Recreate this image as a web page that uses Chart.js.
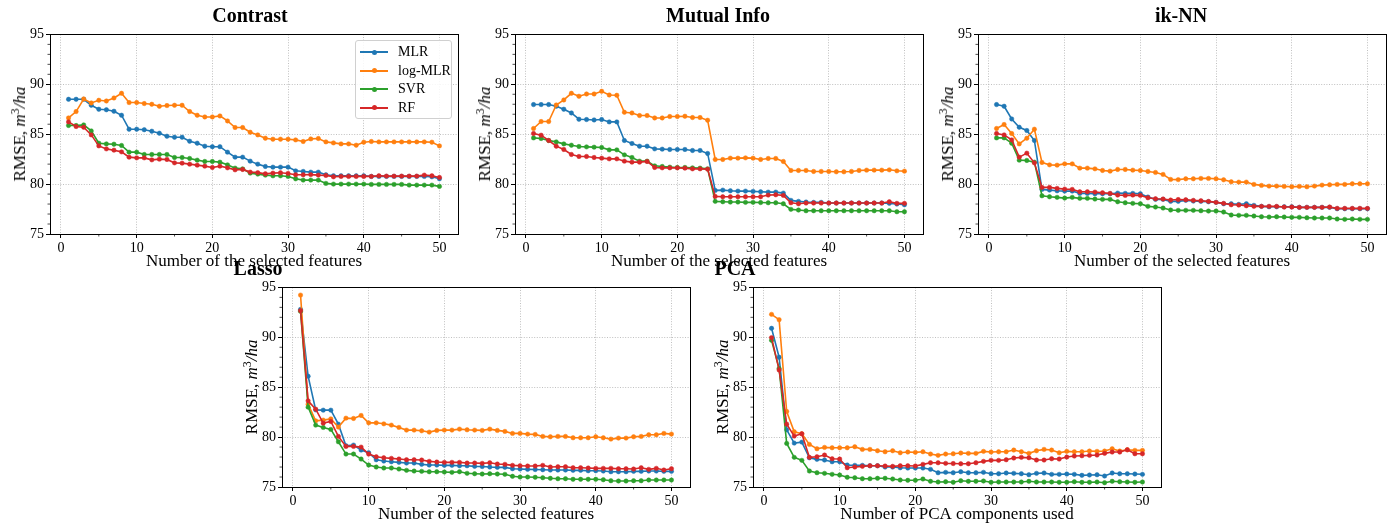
<!DOCTYPE html>
<html>
<head>
<meta charset="utf-8">
<script src="https://cdn.jsdelivr.net/npm/chart.js@4.4.0/dist/chart.umd.min.js"></script>
<style>
  body { margin: 0; background: #fff; }
  #page { position: relative; width: 1400px; height: 526px; overflow: hidden; color: #000;
          font-family: "Liberation Serif", "Times New Roman", serif; }
  canvas { position: absolute; }
  .title { position: absolute; font-weight: bold; font-size: 20px; line-height: 24px;
           white-space: nowrap; transform: translateX(-50%); }
  .ylabel { position: absolute; font-size: 17px; line-height: 20px; white-space: nowrap;
            transform: translate(-50%, -50%) rotate(-90deg); }
  .ylabel sup { font-size: 12px; line-height: 0; vertical-align: 0.5em; }
  #legend { position: absolute; left: 355px; top: 40px; width: 97px; height: 79px; box-sizing: border-box;
            border: 1px solid #d0d0d0; border-radius: 3px; background: rgba(255,255,255,0.85); }
  .lg-line { position: absolute; left: 4px; width: 28px; height: 2px; }
  .lg-dot { position: absolute; left: 15.5px; width: 5px; height: 5px; border-radius: 50%; }
  .lg-text { position: absolute; left: 42px; font-size: 14px; line-height: 16px; white-space: nowrap; }
</style>
</head>
<body>
<div id="page"></div>
<script>
// series names and colours (matplotlib tab10)
const seriesNames = ['MLR', 'log-MLR', 'SVR', 'RF'];
const seriesColors = ['#1f77b4', '#ff7f0e', '#2ca02c', '#d62728'];

// x values: number of features / components
const featureCounts = [
    1, 2, 3, 4, 5, 6, 7, 8, 9, 10,
    11, 12, 13, 14, 15, 16, 17, 18, 19, 20,
    21, 22, 23, 24, 25, 26, 27, 28, 29, 30,
    31, 32, 33, 34, 35, 36, 37, 38, 39, 40,
    41, 42, 43, 44, 45, 46, 47, 48, 49, 50
];

// tick labels
const xTicks = [0, 10, 20, 30, 40, 50];
const xMinorTicks = [5, 15, 25, 35, 45];
const yTicks = [75, 80, 85, 90, 95];
const yMinorTicks = [76, 77, 78, 79, 81, 82, 83, 84, 86, 87, 88, 89, 91, 92, 93, 94];

// ---- Contrast ----
const contrastMLR = [
    88.5, 88.5, 88.5, 87.9, 87.5, 87.45, 87.3, 86.9, 85.5, 85.5,
    85.45, 85.3, 85.1, 84.8, 84.7, 84.7, 84.3, 84.1, 83.8, 83.75,
    83.75, 83.2, 82.7, 82.7, 82.3, 82.0, 81.77, 81.7, 81.7, 81.7,
    81.33, 81.27, 81.2, 81.2, 80.93, 80.83, 80.83, 80.83, 80.83, 80.83,
    80.77, 80.77, 80.77, 80.77, 80.77, 80.77, 80.77, 80.77, 80.73, 80.53
];
const contrastLogMLR = [
    86.63, 87.27, 88.53, 88.13, 88.4, 88.33, 88.63, 89.1, 88.17, 88.17,
    88.07, 88.0, 87.8, 87.87, 87.9, 87.9, 87.27, 86.9, 86.73, 86.73,
    86.83, 86.33, 85.67, 85.67, 85.2, 84.93, 84.6, 84.5, 84.5, 84.5,
    84.43, 84.27, 84.53, 84.57, 84.23, 84.13, 84.03, 84.03, 83.9, 84.2,
    84.27, 84.23, 84.23, 84.23, 84.23, 84.23, 84.23, 84.23, 84.2, 83.83
];
const contrastSVR = [
    85.87, 85.87, 85.93, 85.33, 84.1, 84.03, 84.0, 83.87, 83.2, 83.2,
    82.97, 82.97, 82.97, 82.97, 82.67, 82.67, 82.57, 82.4, 82.27, 82.27,
    82.2, 81.93, 81.6, 81.53, 81.1, 81.0, 80.9, 80.83, 80.83, 80.77,
    80.53, 80.4, 80.4, 80.4, 80.07, 80.0, 80.0, 80.0, 80.0, 80.0,
    79.97, 79.97, 79.97, 79.97, 79.97, 79.9, 79.9, 79.9, 79.9, 79.77
];
const contrastRF = [
    86.23, 85.77, 85.7, 84.93, 83.83, 83.53, 83.4, 83.23, 82.7, 82.63,
    82.63, 82.43, 82.5, 82.47, 82.13, 82.1, 82.0, 81.9, 81.8, 81.67,
    81.8, 81.63, 81.43, 81.47, 81.2, 81.15, 81.03, 81.1, 81.13, 81.07,
    80.93, 80.93, 80.95, 80.9, 80.87, 80.73, 80.77, 80.77, 80.77, 80.77,
    80.77, 80.83, 80.8, 80.8, 80.8, 80.8, 80.8, 80.9, 80.83, 80.67
];

// ---- Mutual Info ----
const mutualMLR = [
    87.97, 87.97, 87.97, 87.8, 87.5, 87.13, 86.5, 86.47, 86.43, 86.47,
    86.23, 86.23, 84.37, 84.07, 83.8, 83.8, 83.53, 83.5, 83.47, 83.47,
    83.47, 83.37, 83.37, 83.07, 79.37, 79.4, 79.33, 79.3, 79.3, 79.27,
    79.23, 79.2, 79.2, 79.1, 78.37, 78.27, 78.2, 78.17, 78.17, 78.1,
    78.1, 78.1, 78.1, 78.1, 78.1, 78.1, 78.1, 78.07, 78.0, 77.93
];
const mutualLogMLR = [
    85.57, 86.27, 86.27, 87.93, 88.43, 89.1, 88.8, 89.03, 89.03, 89.3,
    88.93, 88.9, 87.2, 87.13, 86.87, 86.87, 86.63, 86.63, 86.77, 86.77,
    86.8, 86.67, 86.67, 86.4, 82.47, 82.47, 82.6, 82.6, 82.63, 82.6,
    82.47, 82.57, 82.57, 82.27, 81.37, 81.37, 81.37, 81.27, 81.27, 81.27,
    81.23, 81.23, 81.27, 81.37, 81.4, 81.4, 81.4, 81.43, 81.33, 81.3
];
const mutualSVR = [
    84.63, 84.57, 84.37, 84.23, 84.03, 83.9, 83.77, 83.73, 83.7, 83.67,
    83.43, 83.43, 82.93, 82.67, 82.3, 82.3, 81.83, 81.77, 81.7, 81.67,
    81.67, 81.63, 81.6, 81.53, 78.27, 78.23, 78.2, 78.2, 78.17, 78.17,
    78.15, 78.13, 78.13, 78.03, 77.47, 77.4, 77.33, 77.33, 77.33, 77.33,
    77.33, 77.33, 77.33, 77.33, 77.33, 77.33, 77.33, 77.33, 77.23, 77.23
];
const mutualRF = [
    85.07, 84.9, 84.37, 83.8, 83.47, 82.97, 82.77, 82.77, 82.67, 82.6,
    82.53, 82.53, 82.3, 82.2, 82.2, 82.27, 81.67, 81.63, 81.63, 81.63,
    81.6, 81.53, 81.53, 81.5, 78.77, 78.73, 78.73, 78.73, 78.73, 78.73,
    78.73, 78.9, 78.93, 78.87, 78.13, 78.03, 78.1, 78.1, 78.1, 78.1,
    78.1, 78.1, 78.1, 78.1, 78.1, 78.1, 78.1, 78.23, 78.07, 78.07
];

// ---- ik-NN ----
const iknnMLR = [
    87.97, 87.8, 86.53, 85.7, 85.37, 84.37, 79.47, 79.4, 79.33, 79.3,
    79.3, 79.07, 79.07, 79.03, 79.03, 79.03, 79.1, 79.07, 79.07, 79.03,
    78.7, 78.47, 78.47, 78.27, 78.27, 78.37, 78.3, 78.27, 78.23, 78.17,
    78.03, 78.03, 77.97, 78.03, 77.87, 77.77, 77.73, 77.73, 77.73, 77.73,
    77.67, 77.67, 77.67, 77.67, 77.67, 77.53, 77.53, 77.53, 77.53, 77.53
];
const iknnLogMLR = [
    85.57, 85.97, 85.07, 84.03, 84.6, 85.5, 82.17, 81.93, 81.9, 82.03,
    82.03, 81.6, 81.6, 81.53, 81.37, 81.3, 81.47, 81.47, 81.4, 81.37,
    81.27, 81.17, 80.97, 80.47, 80.45, 80.53, 80.53, 80.57, 80.57, 80.53,
    80.43, 80.23, 80.2, 80.2, 79.97, 79.87, 79.8, 79.8, 79.77, 79.73,
    79.77, 79.73, 79.8, 79.9, 79.93, 79.97, 79.97, 80.03, 80.03, 80.03
];
const iknnSVR = [
    84.63, 84.63, 84.1, 82.4, 82.37, 82.2, 78.83, 78.73, 78.67, 78.6,
    78.67, 78.57, 78.57, 78.5, 78.47, 78.47, 78.23, 78.13, 78.07, 78.03,
    77.77, 77.7, 77.6, 77.4, 77.37, 77.37, 77.37, 77.33, 77.3, 77.3,
    77.2, 76.9, 76.87, 76.87, 76.8, 76.73, 76.7, 76.73, 76.7, 76.67,
    76.67, 76.63, 76.6, 76.6, 76.6, 76.5, 76.47, 76.5, 76.47, 76.47
];
const iknnRF = [
    85.07, 84.93, 84.43, 82.7, 83.1, 82.13, 79.67, 79.67, 79.57, 79.5,
    79.47, 79.23, 79.23, 79.2, 79.13, 79.07, 78.9, 78.87, 78.9, 78.87,
    78.63, 78.53, 78.5, 78.4, 78.45, 78.43, 78.37, 78.33, 78.27, 78.17,
    78.07, 77.93, 77.9, 77.83, 77.77, 77.77, 77.77, 77.77, 77.7, 77.7,
    77.67, 77.67, 77.67, 77.67, 77.7, 77.57, 77.57, 77.57, 77.57, 77.57
];

// ---- Lasso ----
const lassoMLR = [
    92.8, 86.1, 82.73, 82.7, 82.7, 81.3, 79.13, 79.2, 78.7, 78.43,
    77.73, 77.6, 77.53, 77.47, 77.4, 77.4, 77.27, 77.2, 77.2, 77.17,
    77.17, 77.13, 77.13, 77.07, 77.05, 77.0, 76.97, 76.97, 76.83, 76.8,
    76.77, 76.75, 76.73, 76.7, 76.7, 76.7, 76.67, 76.67, 76.63, 76.63,
    76.6, 76.53, 76.53, 76.53, 76.57, 76.57, 76.6, 76.6, 76.57, 76.57
];
const lassoLogMLR = [
    94.23, 83.3, 81.63, 81.7, 81.83, 81.0, 81.9, 81.87, 82.17, 81.43,
    81.43, 81.33, 81.2, 80.97, 80.7, 80.7, 80.63, 80.5, 80.67, 80.7,
    80.7, 80.8, 80.73, 80.7, 80.67, 80.8, 80.67, 80.57, 80.37, 80.37,
    80.3, 80.27, 80.07, 80.03, 80.07, 80.07, 79.93, 79.93, 79.93, 80.03,
    79.93, 79.8, 79.9, 79.9, 80.03, 80.07, 80.23, 80.23, 80.37, 80.3
];
const lassoSVR = [
    92.6, 83.0, 81.2, 80.97, 80.77, 79.53, 78.3, 78.3, 77.8, 77.2,
    77.0, 76.9, 76.9, 76.8, 76.67, 76.6, 76.57, 76.53, 76.53, 76.5,
    76.47, 76.53, 76.37, 76.33, 76.3, 76.33, 76.3, 76.27, 76.07, 76.0,
    76.0, 75.97, 75.93, 75.87, 75.83, 75.83, 75.77, 75.77, 75.77, 75.77,
    75.73, 75.63, 75.6, 75.6, 75.63, 75.63, 75.7, 75.7, 75.7, 75.7
];
const lassoRF = [
    92.67, 83.63, 82.8, 81.4, 81.57, 80.07, 79.07, 79.07, 79.0, 78.3,
    78.03, 77.93, 77.87, 77.8, 77.73, 77.73, 77.7, 77.57, 77.5, 77.47,
    77.47, 77.47, 77.4, 77.4, 77.37, 77.43, 77.3, 77.27, 77.17, 77.13,
    77.1, 77.1, 77.17, 77.0, 77.03, 77.03, 76.93, 76.93, 76.9, 76.87,
    76.87, 76.87, 76.83, 76.83, 76.8, 76.93, 76.77, 76.87, 76.7, 76.83
];

// ---- PCA ----
const pcaMLR = [
    90.9, 88.0, 80.73, 79.4, 79.5, 77.93, 77.77, 77.7, 77.53, 77.53,
    77.2, 77.17, 77.17, 77.13, 77.13, 77.0, 77.0, 76.93, 76.9, 76.9,
    76.9, 76.77, 76.43, 76.47, 76.43, 76.53, 76.43, 76.43, 76.47, 76.33,
    76.33, 76.4, 76.37, 76.33, 76.23, 76.37, 76.4, 76.27, 76.27, 76.3,
    76.27, 76.17, 76.2, 76.23, 76.1, 76.4, 76.33, 76.33, 76.3, 76.27
];
const pcaLogMLR = [
    92.3, 91.77, 82.57, 80.53, 80.33, 79.27, 78.83, 78.97, 78.93, 78.93,
    78.93, 79.03, 78.77, 78.77, 78.63, 78.53, 78.63, 78.43, 78.5, 78.47,
    78.53, 78.3, 78.17, 78.3, 78.33, 78.4, 78.37, 78.37, 78.57, 78.5,
    78.53, 78.53, 78.7, 78.53, 78.37, 78.63, 78.77, 78.7, 78.43, 78.57,
    78.53, 78.53, 78.6, 78.57, 78.6, 78.83, 78.6, 78.73, 78.67, 78.67
];
const pcaSVR = [
    89.7, 86.87, 79.37, 77.97, 77.67, 76.6, 76.43, 76.37, 76.27, 76.2,
    75.97, 75.93, 75.83, 75.83, 75.87, 75.87, 75.8, 75.7, 75.67, 75.67,
    75.8, 75.57, 75.5, 75.53, 75.47, 75.63, 75.57, 75.57, 75.6, 75.47,
    75.5, 75.5, 75.5, 75.5, 75.57, 75.5, 75.5, 75.5, 75.47, 75.47,
    75.53, 75.47, 75.47, 75.5, 75.43, 75.57, 75.53, 75.5, 75.47, 75.5
];
const pcaRF = [
    89.97, 86.73, 81.3, 80.1, 80.33, 77.97, 78.03, 78.2, 77.83, 77.8,
    76.93, 77.0, 77.07, 77.13, 77.13, 77.1, 77.07, 77.13, 77.13, 77.1,
    77.27, 77.43, 77.43, 77.37, 77.35, 77.33, 77.33, 77.43, 77.57, 77.67,
    77.67, 77.73, 77.9, 77.97, 77.93, 77.7, 77.7, 77.83, 77.8, 78.0,
    78.1, 78.13, 78.17, 78.2, 78.37, 78.5, 78.5, 78.73, 78.33, 78.33
];

const FONT = '"Liberation Serif", "Times New Roman", serif';
const AXIS_W = 45;   // room for y tick labels
const AXIS_H = 38;   // room for x tick labels + x title
const PAD_T = 10, PAD_R = 10;

// panel layout: plot box [left, top, right, bottom] in page pixels
const panels = [
    { title: 'Contrast', series: [contrastMLR, contrastLogMLR, contrastSVR, contrastRF],
      xTitle: 'Number of the selected features', box: [50, 34, 458, 234], titlePos: [250, 15], legend: true },
    { title: 'Mutual Info', series: [mutualMLR, mutualLogMLR, mutualSVR, mutualRF],
      xTitle: 'Number of the selected features', box: [515, 34, 923, 234], titlePos: [718, 15] },
    { title: 'ik-NN', series: [iknnMLR, iknnLogMLR, iknnSVR, iknnRF],
      xTitle: 'Number of the selected features', box: [978, 34, 1386, 234], titlePos: [1181, 15] },
    { title: 'Lasso', series: [lassoMLR, lassoLogMLR, lassoSVR, lassoRF],
      xTitle: 'Number of the selected features', box: [282, 287, 690, 487], titlePos: [258, 268] },
    { title: 'PCA', series: [pcaMLR, pcaLogMLR, pcaSVR, pcaRF],
      xTitle: 'Number of PCA components used', box: [753, 287, 1161, 487], titlePos: [735, 268] }
];

// black frame round the plot + small minor ticks
const framePlugin = {
    id: 'frame',
    afterDatasetsDraw(chart) {
        const { ctx, chartArea: a, scales } = chart;
        ctx.save();
        ctx.strokeStyle = '#000';
        ctx.lineWidth = 1;
        ctx.strokeRect(Math.round(a.left) + 0.5, Math.round(a.top) + 0.5,
            Math.round(a.right - a.left), Math.round(a.bottom - a.top));
        ctx.lineWidth = 0.7;
        ctx.beginPath();
        xMinorTicks.forEach(v => {
            const x = scales.x.getPixelForValue(v);
            ctx.moveTo(x, a.bottom);
            ctx.lineTo(x, a.bottom + 2.5);
        });
        yMinorTicks.forEach(v => {
            const y = scales.y.getPixelForValue(v);
            ctx.moveTo(a.left, y);
            ctx.lineTo(a.left - 2.5, y);
        });
        ctx.stroke();
        ctx.restore();
    }
};

function axisStyle() {
    return {
        ticks: { font: { family: FONT, size: 14 }, color: '#000', padding: 2, maxRotation: 0, autoSkip: false },
        grid: { color: '#b0b0b0', lineWidth: 0.8, tickColor: '#000', tickLength: 4, tickWidth: 1 },
        border: { display: false, dash: [1, 1.6] }
    };
}

function makePanel(p) {
    const page = document.getElementById('page');
    const [L, T, R, B] = p.box;

    const canvas = document.createElement('canvas');
    canvas.width = (R - L) + AXIS_W + PAD_R;
    canvas.height = (B - T) + PAD_T + AXIS_H;
    canvas.style.left = (L - AXIS_W) + 'px';
    canvas.style.top = (T - PAD_T) + 'px';
    page.appendChild(canvas);

    const xAxis = axisStyle();
    const yAxis = axisStyle();

    new Chart(canvas, {
        type: 'line',
        data: {
            datasets: p.series.map((vals, k) => ({
                label: seriesNames[k],
                data: featureCounts.map((x, i) => ({ x: x, y: vals[i] })),
                borderColor: seriesColors[k],
                backgroundColor: seriesColors[k],
                pointBackgroundColor: seriesColors[k],
                pointBorderColor: seriesColors[k],
                borderWidth: 1.6,
                pointRadius: 2.2,
                pointBorderWidth: 0.5,
                tension: 0,
                fill: false,
                order: 3 - k
            }))
        },
        options: {
            responsive: false,
            animation: false,
            devicePixelRatio: 1,
            layout: { padding: { left: 0, top: PAD_T, right: PAD_R, bottom: 0 } },
            plugins: { legend: { display: false }, tooltip: { enabled: false } },
            scales: {
                x: Object.assign(xAxis, {
                    type: 'linear', min: -1.45, max: 52.45,
                    afterBuildTicks: s => { s.ticks = xTicks.map(v => ({ value: v })); },
                    afterFit: s => { s.height = AXIS_H; },
                    title: { display: true, text: p.xTitle, color: '#000',
                             font: { family: FONT, size: 17 }, padding: 0 }
                }),
                y: Object.assign(yAxis, {
                    type: 'linear', min: 75, max: 95,
                    afterBuildTicks: s => { s.ticks = yTicks.map(v => ({ value: v })); },
                    afterFit: s => { s.width = AXIS_W; }
                })
            }
        },
        plugins: [framePlugin]
    });

    // title
    const title = document.createElement('div');
    title.className = 'title';
    title.textContent = p.title;
    title.style.left = p.titlePos[0] + 'px';
    title.style.top = (p.titlePos[1] - 12) + 'px';
    page.appendChild(title);

    // y axis label with italic unit
    const yl = document.createElement('div');
    yl.className = 'ylabel';
    yl.innerHTML = 'RMSE, <i>m</i><sup>3</sup><i>/ha</i>';
    yl.style.left = (L - 30) + 'px';
    yl.style.top = ((T + B) / 2) + 'px';
    page.appendChild(yl);

    if (p.legend) buildLegend(page);
}

function buildLegend(page) {
    const box = document.createElement('div');
    box.id = 'legend';
    const rowY = [11, 29.5, 48, 66.5];
    seriesNames.forEach((name, k) => {
        const line = document.createElement('div');
        line.className = 'lg-line';
        line.style.top = (rowY[k] - 1) + 'px';
        line.style.background = seriesColors[k];
        const dot = document.createElement('div');
        dot.className = 'lg-dot';
        dot.style.top = (rowY[k] - 2.5) + 'px';
        dot.style.background = seriesColors[k];
        const text = document.createElement('div');
        text.className = 'lg-text';
        text.style.top = (rowY[k] - 8) + 'px';
        text.textContent = name;
        box.appendChild(line);
        box.appendChild(dot);
        box.appendChild(text);
    });
    page.appendChild(box);
}

panels.forEach(makePanel);
</script>
</body>
</html>
